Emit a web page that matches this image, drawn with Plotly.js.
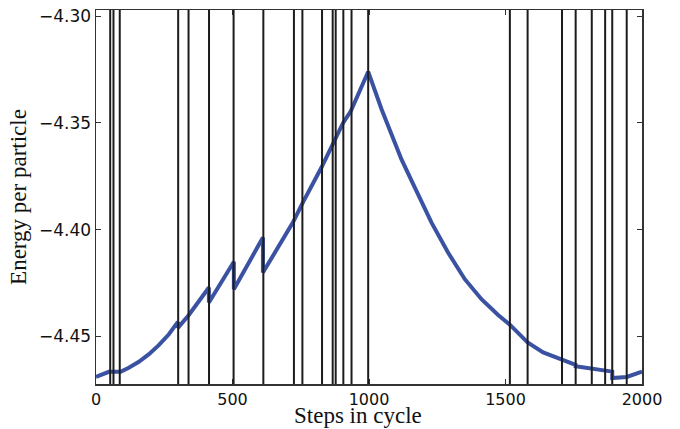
<!DOCTYPE html>
<html>
<head>
<meta charset="utf-8">
<script src="https://cdn.plot.ly/plotly-3.0.1.min.js"></script>
<style>html,body{margin:0;padding:0;background:#fff}#chart{width:680px;height:429px}</style>
</head>
<body>
<div id="chart"></div>
<script>
// Energy curve over one cycle
const steps = [0, 25, 47, 64, 90, 120, 157, 194, 230, 267, 300, 300, 340, 413.6, 413.6, 505, 505, 611.5, 611.5, 721.5, 758, 825.7, 872, 905, 933, 997,
  1046, 1082, 1119, 1168, 1229, 1290, 1351, 1412, 1473, 1516, 1581, 1638, 1707, 1757, 1757, 1816, 1816, 1865, 1891, 1891, 1944, 2000];
const energy = [-4.4690, -4.4678, -4.4666, -4.4666, -4.4666, -4.4647, -4.4619, -4.4583, -4.4541, -4.4490, -4.4432, -4.4460, -4.4400, -4.4271, -4.4341, -4.4150, -4.4279, -4.4037, -4.4201, -4.3966, -4.3872, -4.3709, -4.3586, -4.3500, -4.3446, -4.3260,
  -4.3436, -4.3553, -4.3671, -4.3803, -4.3967, -4.4108, -4.4232, -4.4326, -4.4400, -4.4445, -4.4528, -4.4575, -4.4606, -4.4633, -4.4640, -4.4650, -4.4652, -4.4657, -4.4665, -4.4695, -4.4690, -4.4665];
// Event positions (vertical lines)
const events = [52, 64, 87, 301, 339, 414, 504, 613, 725, 756, 828, 867, 878, 906, 936, 997,
  1516, 1581, 1707, 1757, 1816, 1865, 1891, 1944];
const xTicks = [0, 500, 1000, 1500, 2000];
const yTicks = [-4.30, -4.35, -4.40, -4.45];
const xTitle = 'Steps in cycle';
const yTitle = 'Energy per particle';

const shapes = events.map(e => ({
  type: 'line', xref: 'x', yref: 'paper', x0: e, x1: e, y0: 0, y1: 1,
  line: {color: '#1c1c1c', width: 2}, layer: 'above'
}));

const trace = {
  x: steps, y: energy, type: 'scatter', mode: 'lines',
  line: {color: '#3B52A3', width: 4}, hoverinfo: 'skip'
};

const layout = {
  width: 680, height: 429,
  margin: {l: 96, r: 38, t: 10, b: 45},
  paper_bgcolor: '#fff', plot_bgcolor: '#fff',
  showlegend: false,
  shapes: shapes,
  annotations: [{
    text: xTitle, xref: 'paper', yref: 'paper', x: 0.48, y: 0,
    xanchor: 'center', yanchor: 'bottom', yshift: -45, borderpad: 0, showarrow: false,
    font: {family: 'Liberation Serif', size: 23, color: '#111'}
  }],
  xaxis: {
    range: [0, 2000], tickvals: xTicks, ticktext: xTicks.map(String),
    ticks: 'inside', ticklen: 5, tickcolor: '#333', mirror: 'ticks',
    showline: true, linecolor: '#333', linewidth: 1.5, showgrid: false, zeroline: false,
    tickfont: {family: 'DejaVu Sans', size: 16, color: '#111'},
    automargin: false
  },
  yaxis: {
    range: [-4.4723, -4.2971], tickvals: yTicks, tickformat: '.2f',
    ticks: 'inside', ticklen: 5, tickcolor: '#333', mirror: 'ticks',
    showline: true, linecolor: '#333', linewidth: 1.5, showgrid: false, zeroline: false,
    tickfont: {family: 'DejaVu Sans', size: 17, color: '#111'},
    title: {text: yTitle, font: {family: 'Liberation Serif', size: 23, color: '#111'}, standoff: 6},
    automargin: false
  }
};

Plotly.newPlot('chart', [trace], layout, {staticPlot: true, displayModeBar: false});
</script>
</body>
</html>
